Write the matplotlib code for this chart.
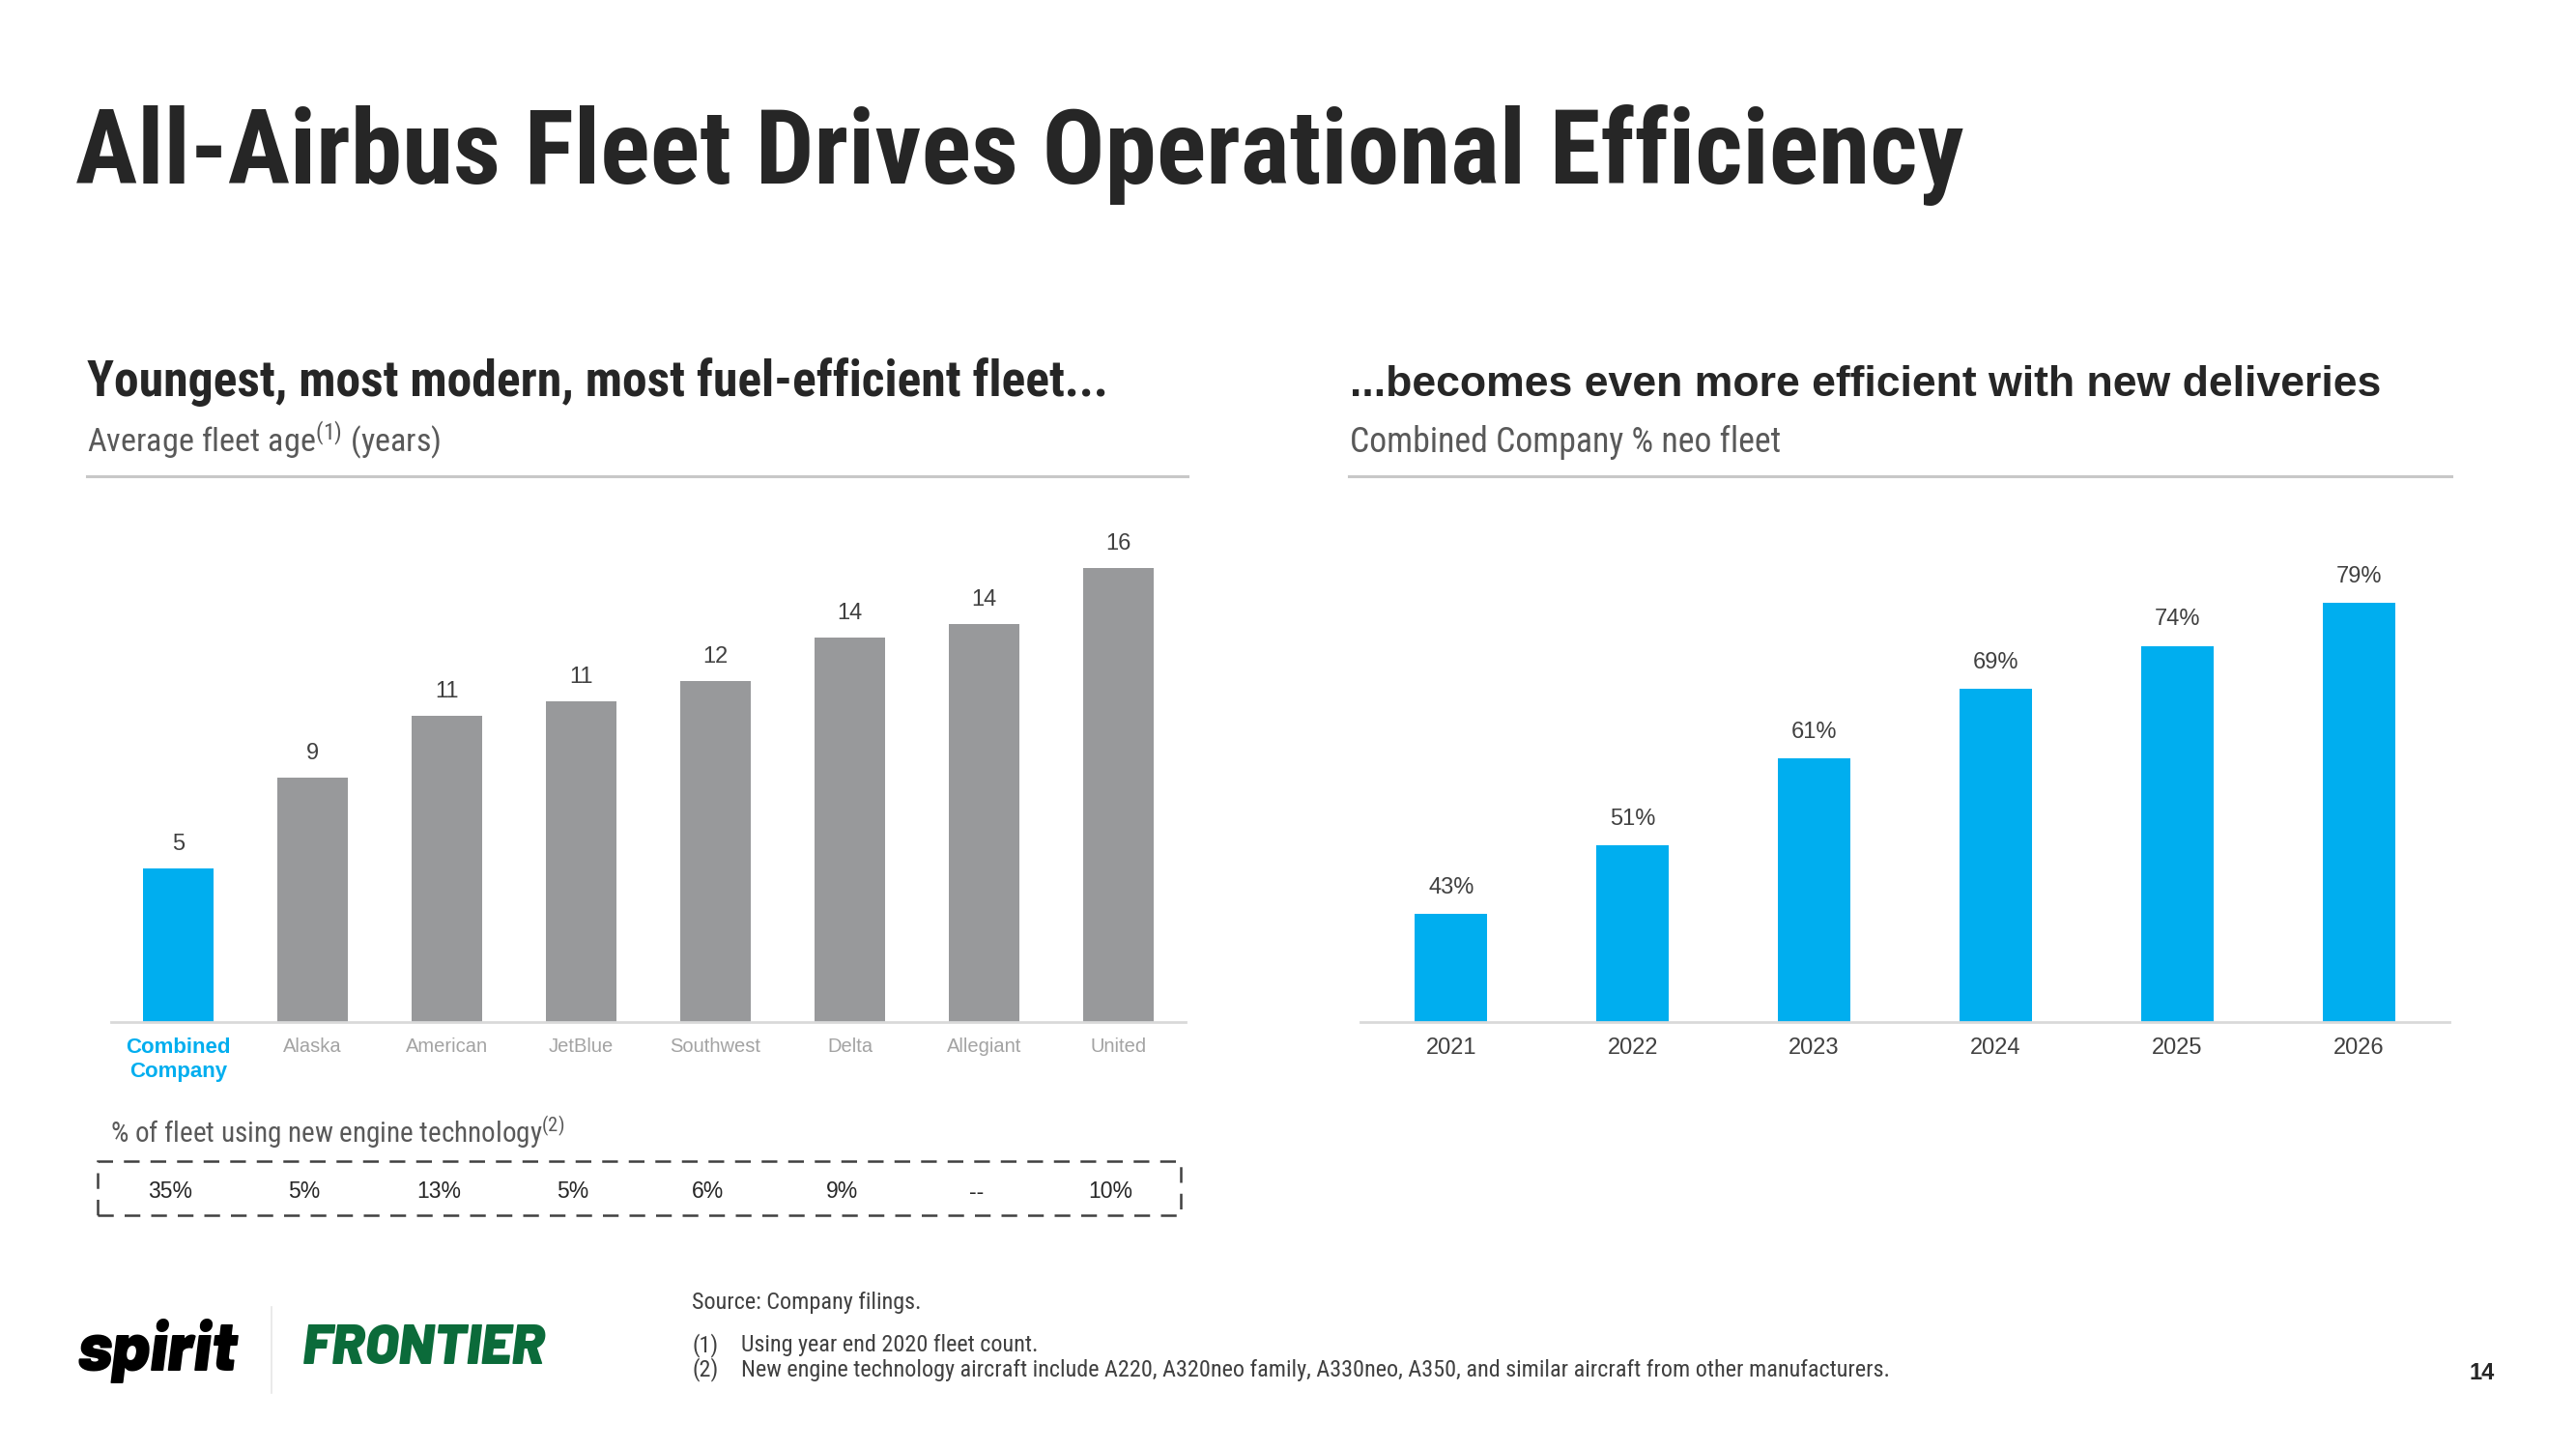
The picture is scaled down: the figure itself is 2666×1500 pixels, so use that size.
import matplotlib
matplotlib.use('Agg')
import matplotlib.pyplot as plt
import matplotlib.transforms as mtransforms
from matplotlib import font_manager as fm
from matplotlib.patches import Rectangle
from matplotlib.lines import Line2D
import numpy as np

# Data
airlines = ['Combined\nCompany', 'Alaska', 'American', 'JetBlue', 'Southwest', 'Delta', 'Allegiant', 'United']
fleet_age = [5.4, 8.6, 10.8, 11.3, 12.0, 13.55, 14.0, 16.0]
new_engine_pct = ['35%', '5%', '13%', '5%', '6%', '9%', '--', '10%']

years = ['2021', '2022', '2023', '2024', '2025', '2026']
neo_pct = [43, 51, 61, 69, 74, 79]


# Fonts
def _w(v):
    try:
        return int(v)
    except (TypeError, ValueError):
        return {'bold': 700, 'heavy': 800, 'black': 900}.get(str(v), 400)


weights = {}
for f in fm.fontManager.ttflist:
    if f.style == 'normal':
        weights.setdefault(f.name, set()).add(_w(f.weight))


def pick(names, weight=400):
    for n in names:
        if n in weights and max(weights[n]) >= weight:
            return n
    return 'DejaVu Sans'


COND_BOLD = pick(['Roboto Condensed', 'Archivo Narrow', 'PT Sans Narrow', 'Fira Sans Condensed',
                  'IBM Plex Sans Condensed', 'Barlow Semi Condensed', 'Asap Condensed'], 700)
BOOK = pick(['Roboto Condensed', 'Archivo Narrow', 'Barlow Semi Condensed'])
ARIAL = pick(['Liberation Sans', 'Arimo'], 700)
LOGO = pick(['Barlow', 'Archivo', 'Liberation Sans'], 800)

plt.rcParams['font.family'] = [ARIAL, 'DejaVu Sans']
plt.rcParams['mathtext.fontset'] = 'custom'
plt.rcParams['mathtext.rm'] = BOOK
plt.rcParams['mathtext.it'] = BOOK + ':italic'
plt.rcParams['mathtext.bf'] = BOOK + ':bold'

# Style
W, H = 2666, 1500
BLUE = '#00aeef'
GRAY_BAR = '#98999b'
DARK = '#262626'
SUB = '#595959'
LABEL = '#404040'

fig = plt.figure(figsize=(W / 100, H / 100), dpi=100)
renderer = fig.canvas.get_renderer()


def fx(x):
    return x / W


def fy(y):
    return 1 - y / H


def fit(t, width_px):
    # scale the font so the text spans the width seen in the slide
    w = t.get_window_extent(renderer).width
    t.set_fontsize(t.get_fontsize() * width_px / w)
    return t


# Title and section headers
fit(fig.text(fx(78), fy(190), 'All-Airbus Fleet Drives Operational Efficiency',
             fontsize=68, fontweight='bold', color=DARK, va='baseline', family=COND_BOLD), 1956)

fit(fig.text(fx(90), fy(410), 'Youngest, most modern, most fuel-efficient fleet...',
             fontsize=30, fontweight='bold', color=DARK, va='baseline', family=COND_BOLD), 1056)
fit(fig.text(fx(90), fy(468), r'Average fleet age$^{\mathrm{(1)}}$ (years)',
             fontsize=19, color=SUB, va='baseline', family=BOOK), 367)

fit(fig.text(fx(1397), fy(410), '...becomes even more efficient with new deliveries',
             fontsize=29, fontweight='bold', color=DARK, va='baseline', family=ARIAL), 1068)
fit(fig.text(fx(1397), fy(468), 'Combined Company % neo fleet',
             fontsize=19, color=SUB, va='baseline', family=BOOK), 446)

for x0, x1 in [(90, 1229), (1396, 2537)]:
    fig.add_artist(Line2D([fx(x0), fx(x1)], [fy(493), fy(493)],
                          color='#c8c8c8', lw=2.2, transform=fig.transFigure))

# Left chart: fleet age
ax1 = fig.add_axes([fx(115), fy(1058.3), fx(1227) - fx(115), 0.353])
x1 = np.arange(len(airlines))
colors = [BLUE] + [GRAY_BAR] * (len(airlines) - 1)
bars1 = ax1.bar(x1, fleet_age, width=0.52, color=colors)
ax1.set_xlim(-0.5, len(airlines) - 0.5)
ax1.set_ylim(0, 18)
for b, v in zip(bars1, fleet_age):
    ax1.annotate(f'{v:.0f}', xy=(b.get_x() + b.get_width() / 2, v),
                 xytext=(0, 18), textcoords='offset points',
                 ha='center', va='center', fontsize=17, color=LABEL)
ax1.set_xticks(x1)
ax1.set_xticklabels(airlines, fontsize=14.5, color='#a3a3a3', linespacing=1.3)
tl = ax1.get_xticklabels()[0]
tl.set_color(BLUE)
tl.set_fontweight('bold')
tl.set_fontsize(16)

# Right chart: neo fleet
ax2 = fig.add_axes([fx(1408), fy(1058.3), fx(2535) - fx(1408), 0.353])
x2 = np.arange(len(years))
bars2 = ax2.bar(x2, neo_pct, width=0.4, color=BLUE)
ax2.set_xlim(-0.5, len(years) - 0.5)
ax2.set_ylim(30.5, 89.6)
for b, v in zip(bars2, neo_pct):
    ax2.annotate(f'{v}%', xy=(b.get_x() + b.get_width() / 2, v),
                 xytext=(0, 19.5), textcoords='offset points',
                 ha='center', va='center', fontsize=17, color=LABEL)
ax2.set_xticks(x2)
ax2.set_xticklabels(years, fontsize=17, color=LABEL)

for ax in (ax1, ax2):
    ax.set_facecolor('none')
    for s in ['top', 'right', 'left']:
        ax.spines[s].set_visible(False)
    ax.spines['bottom'].set_color('#d9d9d9')
    ax.spines['bottom'].set_linewidth(2.0)
    ax.set_yticks([])
    ax.tick_params(axis='x', length=0, pad=11)

# New engine technology box
fit(fig.text(fx(114), fy(1172), r'% of fleet using new engine technology$^{\mathrm{(2)}}$',
             fontsize=16, color=SUB, va='center', family=BOOK), 471)
fig.add_artist(Rectangle((fx(101), fy(1258)), fx(1222) - fx(101), fy(1202) - fy(1258),
                         transform=fig.transFigure, fill=False, edgecolor='#404040',
                         lw=1.8, linestyle=(0, (6.5, 4.5))))
box_tr = mtransforms.blended_transform_factory(ax1.transData, fig.transFigure)
for xi, t in zip(x1, new_engine_pct):
    fig.text(xi - 0.06, fy(1234), t, transform=box_tr, ha='center', va='center',
             fontsize=16.5, color=DARK)

# Footer
foot = dict(color='#404040', va='center', family=BOOK)
note2 = fit(fig.text(fx(767), fy(1418), 'New engine technology aircraft include A220, A320neo family, '
                     'A330neo, A350, and similar aircraft from other manufacturers.',
                     fontsize=13, **foot), 1181)
fs = note2.get_fontsize()
fig.text(fx(716), fy(1348), 'Source: Company filings.', fontsize=fs, **foot)
fig.text(fx(716), fy(1393), '(1)', fontsize=fs, **foot)
fig.text(fx(767), fy(1393), 'Using year end 2020 fleet count.', fontsize=fs, **foot)
fig.text(fx(716), fy(1418), '(2)', fontsize=fs, **foot)
fig.text(fx(2569), fy(1421), '14', fontsize=17, fontweight='bold', color=DARK,
         ha='center', va='center', family=ARIAL)

# Logos
fit(fig.text(fx(80), fy(1398), 'spirit', fontsize=38, fontweight=900, style='italic',
             color='black', va='center', family=LOGO), 166)
fig.add_artist(Line2D([fx(281), fx(281)], [fy(1353), fy(1442)], color='#e6e6e6', lw=1.2,
                      transform=fig.transFigure))
fit(fig.text(fx(313), fy(1396), 'FRONTIER', fontsize=33, fontweight=900, style='italic',
             color='#0b6b3a', va='center', family=LOGO), 252)

fig.savefig('out.png', dpi=100, facecolor='white')
